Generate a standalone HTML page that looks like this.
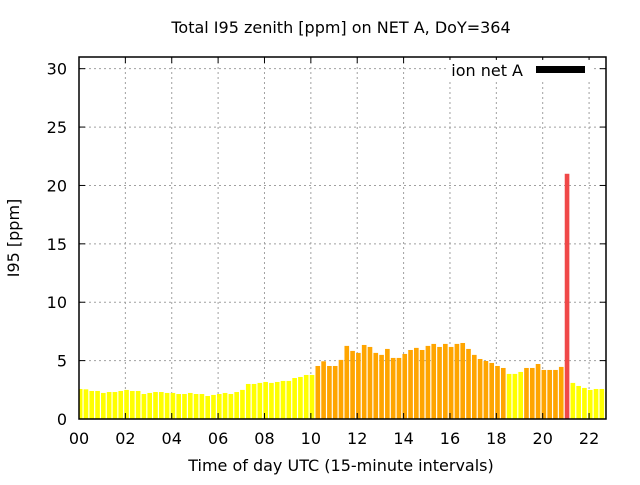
<!DOCTYPE html>
<html><head><meta charset="utf-8"><style>
body{margin:0;background:#fff;}
svg text{font-family:"DejaVu Sans","Liberation Sans",sans-serif;fill:#000;}
</style></head><body>
<svg id="chart" width="640" height="480" xmlns="http://www.w3.org/2000/svg">
<rect width="640" height="480" fill="#fff"/>
<text x="341" y="33" font-size="16" text-anchor="middle">Total I95 zenith [ppm] on NET A, DoY=364</text>
<text x="341" y="471" font-size="16" text-anchor="middle">Time of day UTC (15-minute intervals)</text>
<text transform="translate(19,238) rotate(-90)" font-size="16" text-anchor="middle">I95 [ppm]</text>
<g id="grid"></g>
<g id="bars"></g>
<g id="axes"></g>
<g>
<rect x="446" y="60" width="146" height="22" fill="#fff"/>
<text x="523" y="76" font-size="16" text-anchor="end">ion net A</text>
<rect x="536" y="66" width="49" height="7" fill="#000"/>
</g>
</svg>
<script>
const values = [2.57,2.54,2.4,2.4,2.23,2.31,2.31,2.4,2.49,2.4,2.4,2.14,2.23,2.31,2.31,2.23,2.23,2.14,2.14,2.23,2.14,2.14,1.97,2.06,2.14,2.23,2.14,2.31,2.49,3.0,3.0,3.09,3.17,3.09,3.17,3.26,3.26,3.51,3.6,3.77,3.77,
4.54,4.94,4.54,4.54,5.06,6.26,5.83,5.66,6.34,6.17,5.66,5.49,6.0,5.23,5.23,5.57,5.91,6.09,5.91,6.26,6.43,6.17,6.43,6.17,6.43,6.51,6.0,5.49,5.14,4.97,4.8,4.54,4.37,
3.86,3.86,4.03,4.37,4.37,4.71,4.2,4.2,4.2,4.46,21.0,3.09,2.83,2.66,2.49,2.57,2.57,2.31];
const xTicks = [0,2,4,6,8,10,12,14,16,18,20,22];
const xTickLabels = ["00","02","04","06","08","10","12","14","16","18","20","22"];
const yTicks = [0,5,10,15,20,25,30];
const stepHours = 0.25;
const L=79,R=606,T=57,B=419, xmin=0,xmax=22.73,ymin=0,ymax=31;
const xs=v=>L+(v-xmin)/(xmax-xmin)*(R-L);
const ys=v=>B-(v-ymin)/(ymax-ymin)*(B-T);
const NS="http://www.w3.org/2000/svg";
function mk(tag,attrs,parent){const e=document.createElementNS(NS,tag);for(const k in attrs)e.setAttribute(k,attrs[k]);parent.appendChild(e);return e;}
const grid=document.getElementById('grid'),bars=document.getElementById('bars'),axes=document.getElementById('axes');
yTicks.forEach(t=>{
  if(t>ymin){const g=mk('line',{x1:L,x2:R,y1:ys(t),y2:ys(t),stroke:'#a0a0a0','stroke-dasharray':'2,3'},grid);
  
  }
  const tl=mk('text',{x:L-12,y:ys(t)+6,'font-size':16,'text-anchor':'end'},axes);tl.textContent=t;
  
  
  [[L,L+6],[R-6,R]].forEach(p=>{const m=mk('line',{x1:p[0],x2:p[1],y1:ys(t),y2:ys(t),stroke:'#000'},axes);
  
  });
});
xTicks.forEach((t,i)=>{
  if(t>xmin){const g=mk('line',{x1:xs(t),x2:xs(t),y1:T,y2:B,stroke:'#a0a0a0','stroke-dasharray':'2,3'},grid);
  
  }
  const tl=mk('text',{x:xs(t),y:B+25,'font-size':16,'text-anchor':'middle'},axes);tl.textContent=xTickLabels[i];
  
  
  [[B-6,B],[T,T+6]].forEach(p=>{const m=mk('line',{x1:xs(t),x2:xs(t),y1:p[0],y2:p[1],stroke:'#000'},axes);
  
  });
});
const clip=mk('clipPath',{id:'pc'},document.getElementById('chart'));
mk('rect',{x:L,y:T,width:R-L,height:B-T},clip);
bars.setAttribute('clip-path','url(#pc)');
values.forEach((v,k)=>{
  const c=k*stepHours+0.05, w=0.2;
  const col=v>=10?'#f04848':(v>=4.1?'#ffa500':'#ffff00');
  const b=mk('rect',{x:xs(c-w/2),y:ys(v),width:xs(c+w/2)-xs(c-w/2),height:ys(0)-ys(v),fill:col},bars);
  
  
});
const frame=mk('rect',{x:L,y:T,width:R-L,height:B-T,fill:'none',stroke:'#000','stroke-width':1.5},axes);


</script>
</body></html>
